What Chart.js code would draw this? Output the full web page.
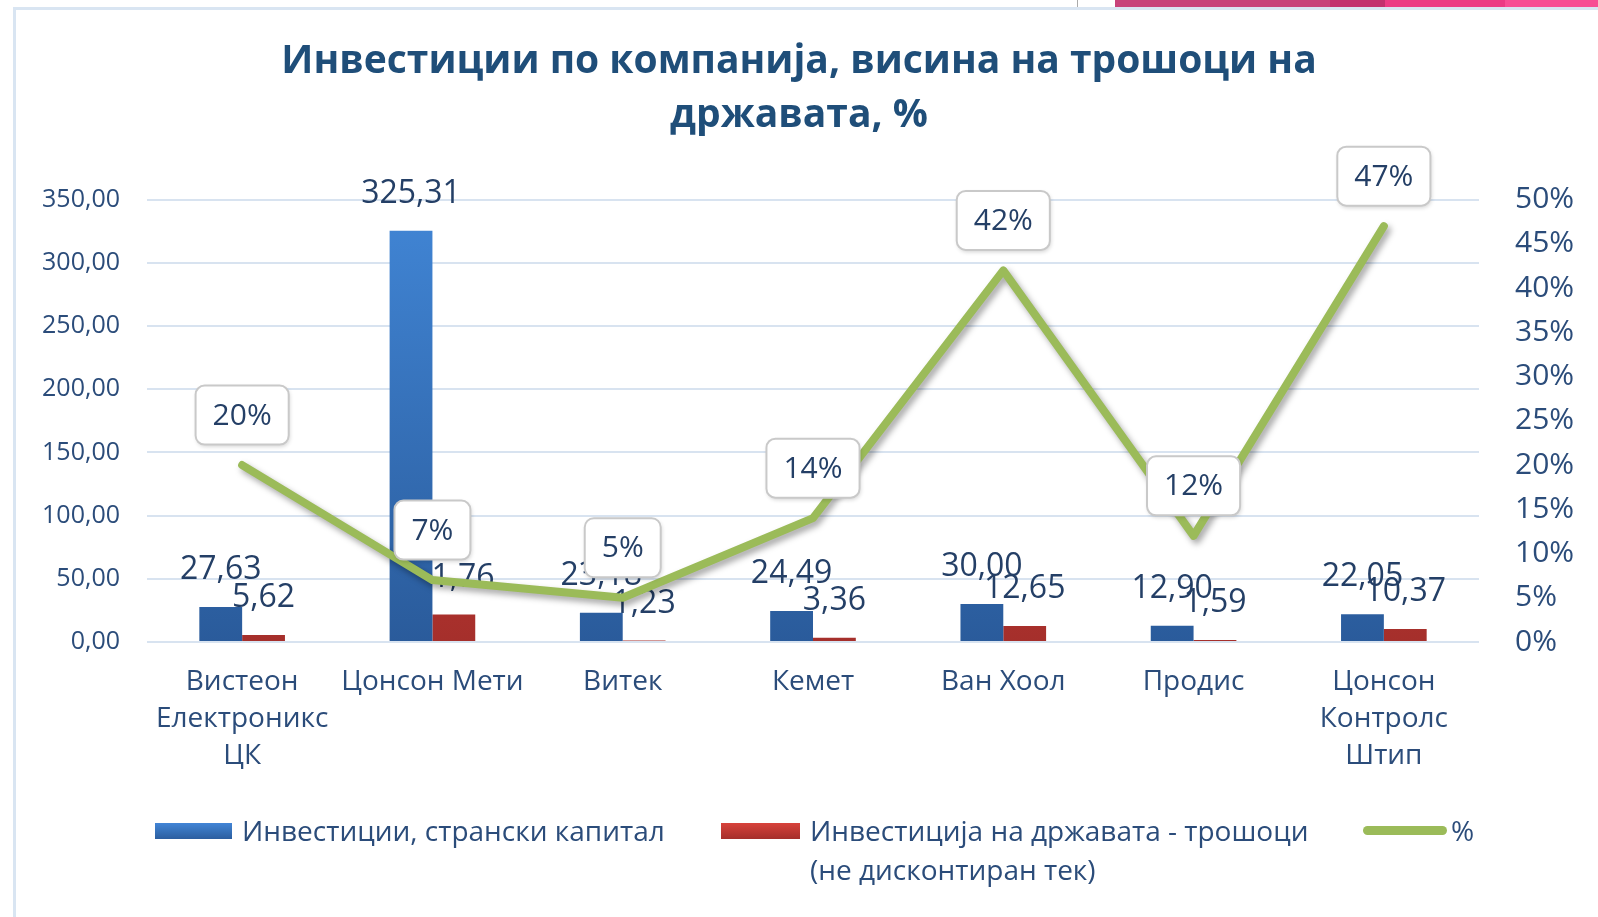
<!DOCTYPE html>
<html>
<head>
<meta charset="utf-8">
<script src="https://cdn.jsdelivr.net/npm/chart.js@4.4.1/dist/chart.umd.min.js"></script>
<style>
  html, body { margin: 0; padding: 0; background: #fff; }
  body { width: 1598px; height: 917px; position: relative; overflow: hidden; font-family: "Open Sans", sans-serif; }
  .frame { position: absolute; left: 13px; top: 7px; right: 0; bottom: 0; border-left: 3px solid #d9e5f2; border-top: 3px solid #d9e5f2; }
  .strip { position: absolute; top: 0; left: 1115px; right: 0; height: 7px;
    background: linear-gradient(to right, #c8437a 0, #c8437a 215px, #c3306e 215px, #c3306e 270px, #ec3a84 270px, #ec3a84 390px, #f84d94 390px); }
  .tick { position: absolute; top: 0; left: 1077px; width: 1px; height: 7px; background: #aaa; }
  #wrap { position: absolute; left: 0; top: 0; width: 1598px; height: 917px; }
  .legend { position: absolute; top: 811px; font-size: 28px; line-height: 39px; color: #2b4c7a; }
  .legend .sw { position: absolute; left: 0; }
  .legend span.txt { position: absolute; white-space: nowrap; }
</style>
</head>
<body>
<div class="strip"></div>
<div class="tick"></div>
<div class="frame"></div>
<div id="wrap"><canvas id="comboChart" width="1598" height="917"></canvas></div>

<div class="legend" style="left:155px">
  <div class="sw" style="top:12px;width:77px;height:16px;background:linear-gradient(#4285d6,#2b5e9f)"></div>
  <span class="txt" style="left:87px">Инвестиции, странски капитал</span>
</div>
<div class="legend" style="left:721px">
  <div class="sw" style="top:12px;width:79px;height:16px;background:linear-gradient(#d8423b,#a52f2b)"></div>
  <span class="txt" style="left:89px">Инвестиција на државата - трошоци<br>(не дисконтиран тек)</span>
</div>
<div class="legend" style="left:1363px">
  <div class="sw" style="top:15px;width:84px;height:9px;border-radius:5px;background:#9bbb59"></div>
  <span class="txt" style="left:88px">%</span>
</div>

<script>
// DATA
const companies = [
  ["Вистеон", "Електроникс", "ЦК"],
  "Цонсон Мети",
  "Витек",
  "Кемет",
  "Ван Хоол",
  "Продис",
  ["Цонсон", "Контролс", "Штип"]
];
const foreignCapital = [27.63, 325.31, 23.18, 24.49, 30.00, 12.90, 22.05];
const stateCosts = [5.62, 21.76, 1.23, 3.36, 12.65, 1.59, 10.37];
const percentShare = [20, 7, 5, 14, 42, 12, 47];

const titleLines = ["Инвестиции по компанија, висина на трошоци на", "државата, %"];
const valueTicks = [0, 50, 100, 150, 200, 250, 300, 350];
const percentTicks = [0, 5, 10, 15, 20, 25, 30, 35, 40, 45, 50];

const textColor = "#2b4c7a";
const labelColor = "#243f66";
const fmt = v => v.toFixed(2).replace(".", ",");

function vGradient(ctx, top, bottom) {
  const chart = ctx.chart;
  const area = chart.chartArea;
  if (!area) return top;
  const g = chart.ctx.createLinearGradient(0, area.top, 0, area.bottom);
  g.addColorStop(0, top);
  g.addColorStop(1, bottom);
  return g;
}

// labels over bars, drawn before the line
const barLabels = {
  id: "barLabels",
  afterDatasetDraw(chart, args) {
    const meta = args.meta;
    if (meta.type !== "bar") return;
    const ctx = chart.ctx;
    const data = chart.data.datasets[args.index].data;
    ctx.save();
    ctx.font = "32px 'Open Sans'";
    ctx.fillStyle = labelColor;
    ctx.textAlign = "center";
    ctx.textBaseline = "middle";
    meta.data.forEach((bar, i) => {
      ctx.fillText(fmt(data[i]), bar.x, bar.y - 37);
    });
    ctx.restore();
  }
};

// shadow under the green line
const lineShadow = {
  id: "lineShadow",
  beforeDatasetDraw(chart, args) {
    if (args.meta.type !== "line") return;
    const ctx = chart.ctx;
    ctx.save();
    ctx.shadowColor = "rgba(0,0,0,0.35)";
    ctx.shadowBlur = 6;
    ctx.shadowOffsetX = 3;
    ctx.shadowOffsetY = 4;
  },
  afterDatasetDraw(chart, args) {
    if (args.meta.type !== "line") return;
    chart.ctx.restore();
  }
};

// percent callouts
const percentBoxes = {
  id: "percentBoxes",
  afterDatasetsDraw(chart) {
    const idx = chart.data.datasets.findIndex(d => d.type === "line");
    const meta = chart.getDatasetMeta(idx);
    const data = chart.data.datasets[idx].data;
    const ctx = chart.ctx;
    ctx.save();
    ctx.font = "30px 'Open Sans'";
    meta.data.forEach((pt, i) => {
      const txt = data[i] + "%";
      const w = ctx.measureText(txt).width + 34;
      const h = 59;
      const cx = pt.x, cy = pt.y - 50;
      ctx.save();
      ctx.shadowColor = "rgba(0,0,0,0.18)";
      ctx.shadowBlur = 4;
      ctx.shadowOffsetX = 1;
      ctx.shadowOffsetY = 2;
      ctx.beginPath();
      ctx.roundRect(cx - w / 2, cy - h / 2, w, h, 9);
      ctx.fillStyle = "#ffffff";
      ctx.fill();
      ctx.restore();
      ctx.lineWidth = 2;
      ctx.strokeStyle = "#c9c9c9";
      ctx.stroke();
      ctx.fillStyle = labelColor;
      ctx.textAlign = "center";
      ctx.textBaseline = "middle";
      ctx.fillText(txt, cx, cy + 1);
    });
    ctx.restore();
  }
};

const el = document.getElementById("comboChart");

new Chart(el, {
  data: {
    labels: companies,
    datasets: [
      {
        type: "bar",
        label: "Инвестиции, странски капитал",
        data: foreignCapital,
        yAxisID: "y",
        order: 1,
        backgroundColor: ctx => vGradient(ctx, "#4186d6", "#2a5b9b"),
        barPercentage: 1,
        categoryPercentage: 0.45
      },
      {
        type: "bar",
        label: "Инвестиција на државата - трошоци (не дисконтиран тек)",
        data: stateCosts,
        yAxisID: "y",
        order: 2,
        backgroundColor: ctx => vGradient(ctx, "#e0423b", "#a52f2b"),
        barPercentage: 1,
        categoryPercentage: 0.45
      },
      {
        type: "line",
        label: "%",
        data: percentShare,
        yAxisID: "y1",
        order: 0,
        borderColor: "#9bbb59",
        borderWidth: 8,
        pointRadius: 0,
        tension: 0,
        borderCapStyle: "round",
        borderJoinStyle: "round"
      }
    ]
  },
  options: {
    responsive: false,
    animation: false,
    layout: { padding: 0 },
    plugins: {
      legend: { display: false },
      tooltip: { enabled: false },
      title: {
        display: true,
        text: titleLines,
        color: "#1f4e79",
        font: { family: "'Open Sans'", size: 39, weight: "bold", lineHeight: 1.38 },
        padding: { top: 35, bottom: 57 }
      }
    },
    scales: {
      x: {
        grid: { display: false, drawTicks: false },
        border: { display: false },
        ticks: {
          color: textColor,
          font: { family: "'Open Sans'", size: 28, lineHeight: 1.32 },
          padding: 22,
          maxRotation: 0,
          autoSkip: false
        },
        afterFit: s => { s.height = 275; }
      },
      y: {
        position: "left",
        min: 0,
        max: 350,
        afterBuildTicks: s => { s.ticks = valueTicks.map(v => ({ value: v })); },
        grid: { color: "#d8e3f0", lineWidth: 2, drawTicks: false },
        border: { display: false },
        ticks: {
          color: textColor,
          font: { family: "'Open Sans'", size: 25 },
          padding: 27,
          callback: v => fmt(v)
        },
        afterFit: s => { s.width = 147; }
      },
      y1: {
        position: "right",
        min: 0,
        max: 50,
        afterBuildTicks: s => { s.ticks = percentTicks.map(v => ({ value: v })); },
        grid: { display: false, drawTicks: false },
        border: { display: false },
        ticks: {
          color: textColor,
          font: { family: "'Open Sans'", size: 30 },
          padding: 36,
          autoSkip: false,
          callback: v => v + "%"
        },
        afterFit: s => { s.width = 119; }
      }
    }
  },
  plugins: [barLabels, lineShadow, percentBoxes]
});
</script>
</body>
</html>
